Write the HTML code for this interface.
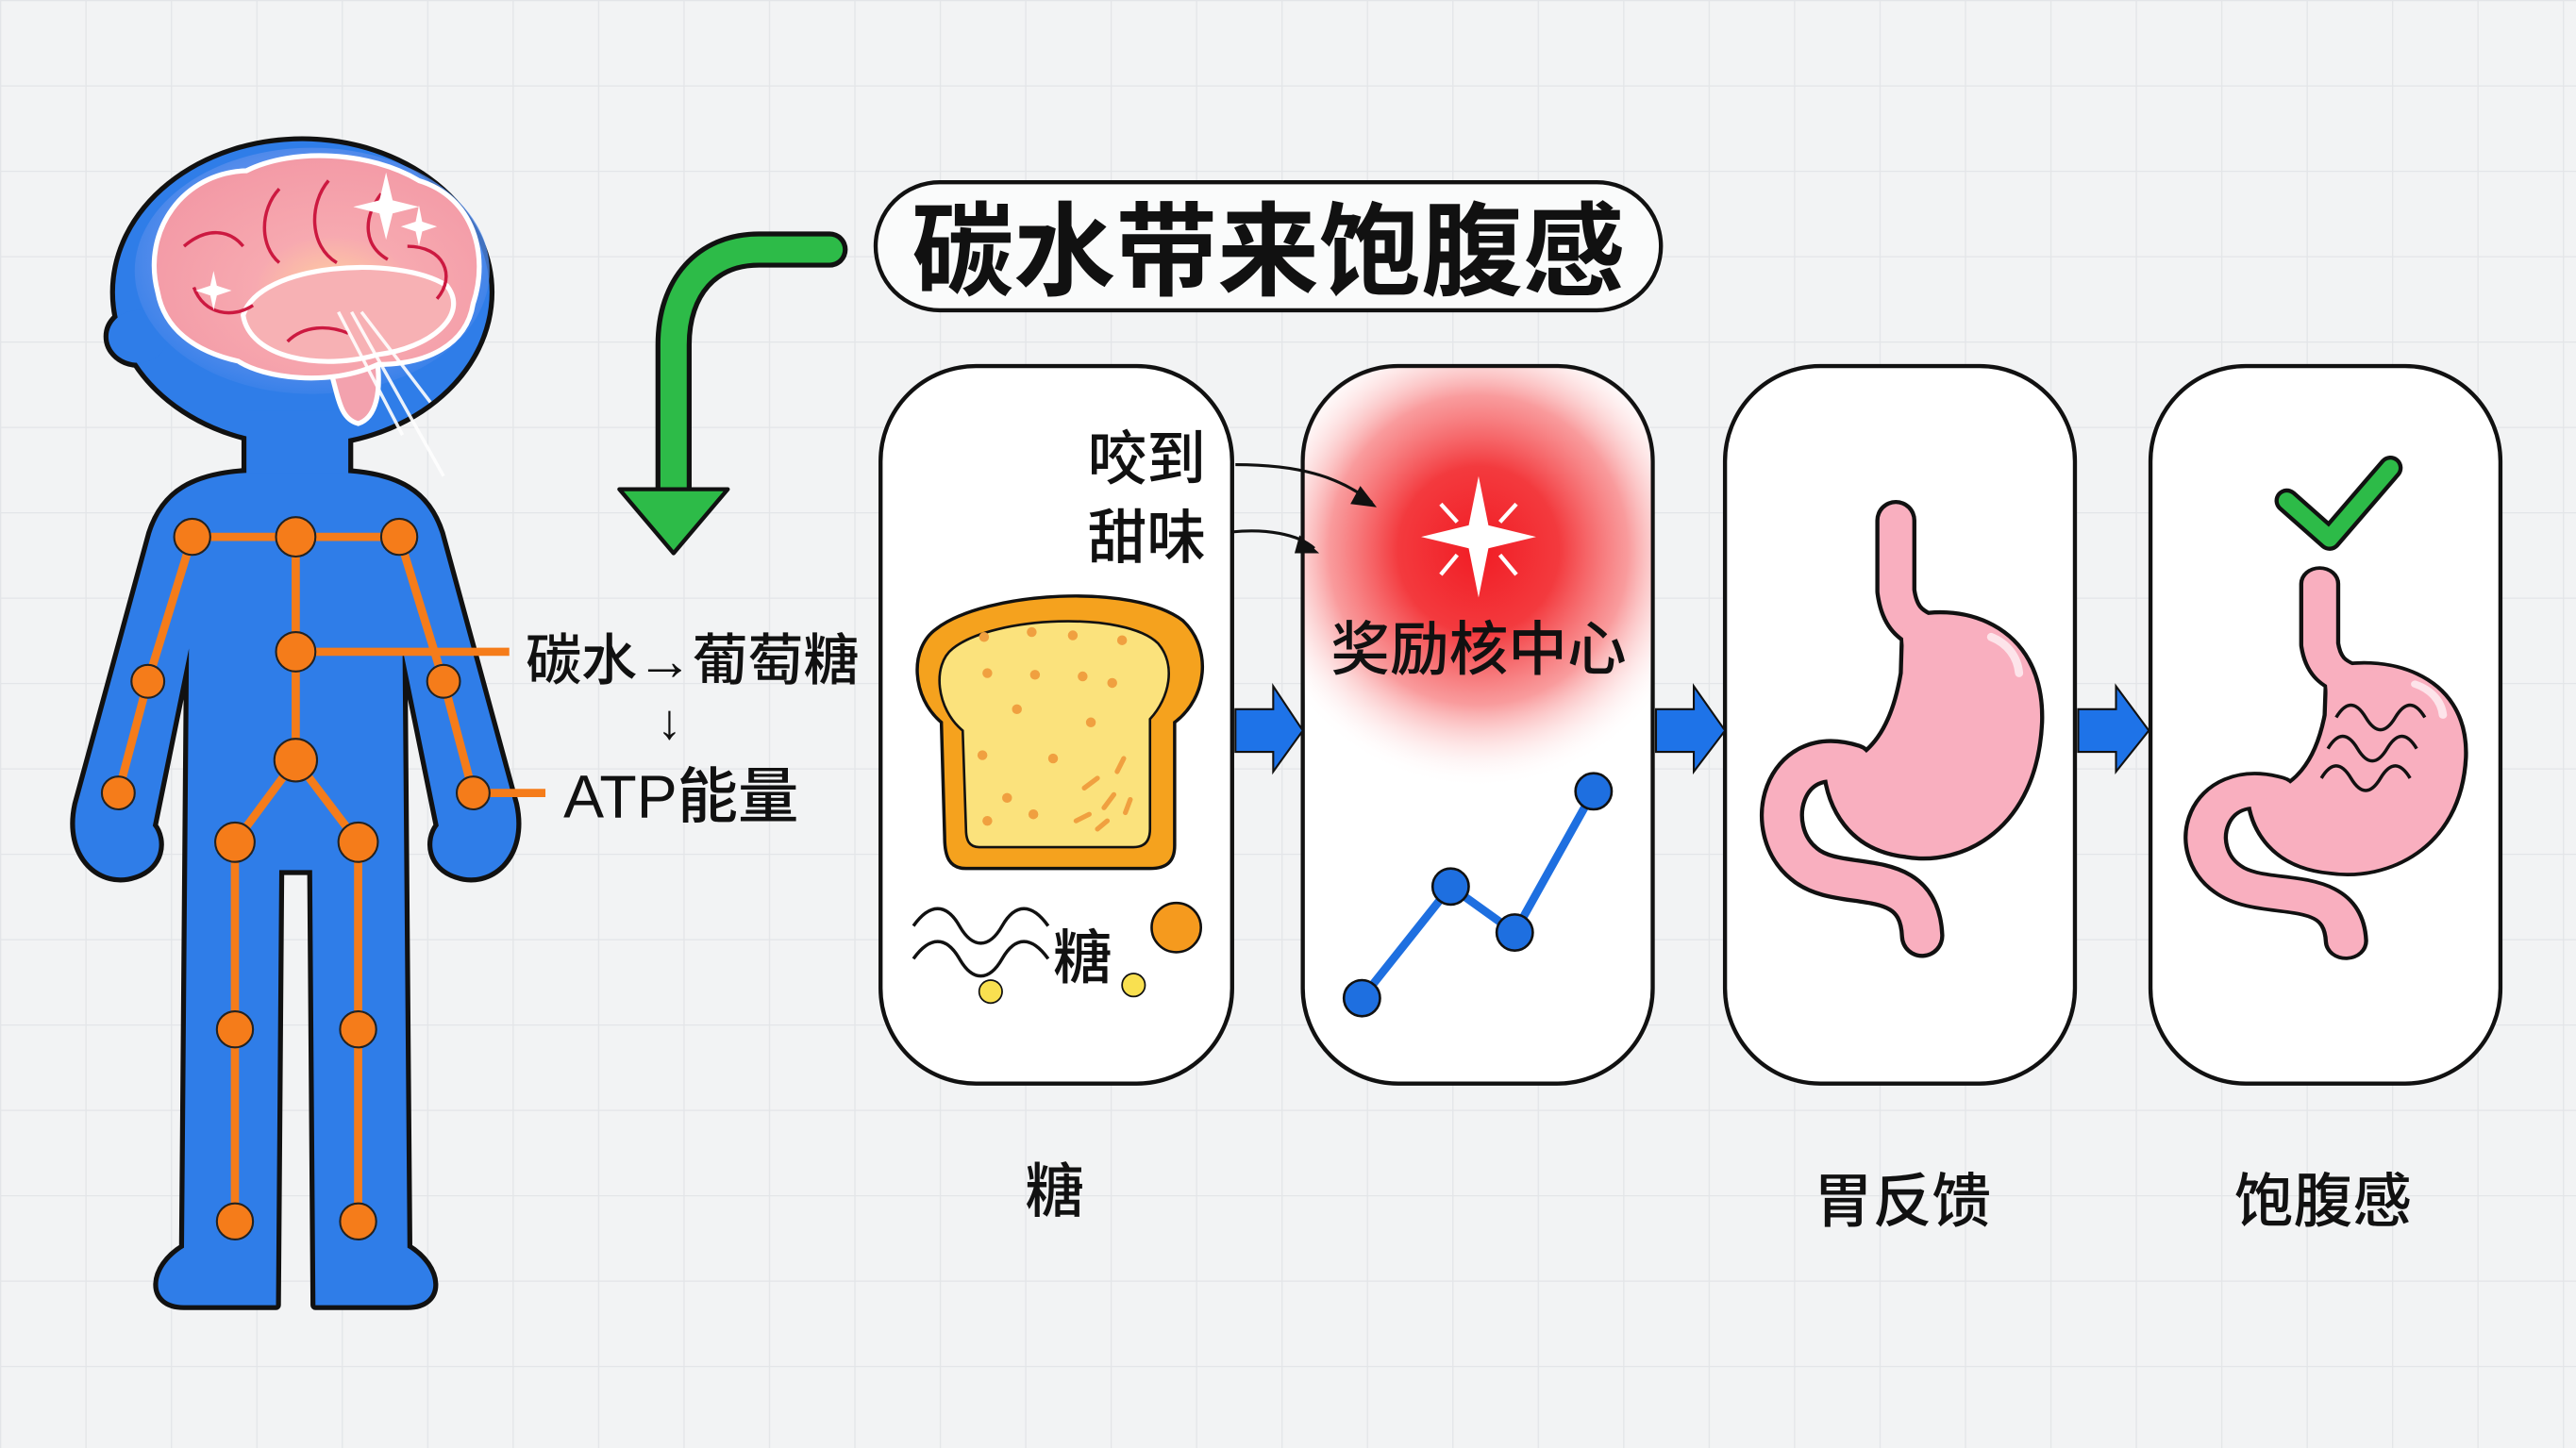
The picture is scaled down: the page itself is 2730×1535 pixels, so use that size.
<!DOCTYPE html>
<html><head><meta charset="utf-8"><style>
html,body{margin:0;padding:0;background:#f2f3f4}
svg{display:block}
text{font-family:"Liberation Sans","Noto Sans CJK SC",sans-serif;}
.lb{font-weight:500}
</style></head><body>
<svg width="2730" height="1535" viewBox="0 0 1568 882" preserveAspectRatio="none" xmlns="http://www.w3.org/2000/svg">
<defs>
<pattern id="grid" width="52" height="52" patternUnits="userSpaceOnUse">
<path d="M52 0 L0 0 0 52" fill="none" stroke="#e3e5e8" stroke-width="1.5"/>
</pattern>
<radialGradient id="glow" cx="0.5" cy="0.5" r="0.5">
<stop offset="0" stop-color="#f21c24"/><stop offset="0.35" stop-color="#f33a3e"/><stop offset="0.65" stop-color="#f77a7c" stop-opacity="0.75"/><stop offset="1" stop-color="#ffffff" stop-opacity="0"/>
</radialGradient>
<radialGradient id="brainG" cx="0.55" cy="0.6" r="0.6">
<stop offset="0" stop-color="#ffd0a0"/><stop offset="0.4" stop-color="#f7a9b0"/><stop offset="1" stop-color="#f39aa6"/>
</radialGradient>
<radialGradient id="headG" cx="0.5" cy="0.45" r="0.6">
<stop offset="0" stop-color="#a9b9f2"/><stop offset="0.6" stop-color="#6f97ee"/><stop offset="1" stop-color="#2f7de8"/>
</radialGradient>
<clipPath id="c2"><rect x="794" y="224" width="211" height="435" rx="57"/></clipPath>
</defs>
<rect width="1568" height="882" fill="#f2f3f4"/>
<rect width="1568" height="882" fill="url(#grid)"/>

<!-- PERSON -->
<g stroke="#111" stroke-width="6" fill="#111" stroke-linejoin="round">
<ellipse cx="184" cy="178" rx="114" ry="92"/>
<ellipse cx="84" cy="205" rx="18" ry="16"/>
<rect x="150" y="250" width="62" height="50"/>
<path d="M150,288 C118,290 100,300 92,325 L47,490 C40,522 62,540 82,533 C98,528 100,512 93,503 L115,395 L112,760 C92,772 90,795 112,795 L168,795 L170,530 L190,530 L192,795 L248,795 C270,795 268,772 248,760 L245,395 L267,503 C260,512 262,528 278,533 C298,540 320,522 313,490 L268,325 C260,300 242,290 210,288 Z"/>
</g>
<g fill="#2f7de8">
<ellipse cx="184" cy="178" rx="114" ry="92"/>
<ellipse cx="84" cy="205" rx="18" ry="16"/>
<rect x="150" y="250" width="62" height="50"/>
<path d="M150,288 C118,290 100,300 92,325 L47,490 C40,522 62,540 82,533 C98,528 100,512 93,503 L115,395 L112,760 C92,772 90,795 112,795 L168,795 L170,530 L190,530 L192,795 L248,795 C270,795 268,772 248,760 L245,395 L267,503 C260,512 262,528 278,533 C298,540 320,522 313,490 L268,325 C260,300 242,290 210,288 Z"/>
</g>
<ellipse cx="190" cy="165" rx="108" ry="75" fill="url(#headG)" opacity="0.8"/>
<!-- brain -->
<g stroke="#fff" stroke-width="3">
<path d="M228,210 C234,240 228,255 218,258 C206,255 206,240 200,222 Z" fill="#f3a2ae"/>
<path d="M96,178 C86,140 112,105 150,104 C178,90 225,92 255,110 C288,120 298,155 288,185 C284,210 260,222 230,222 C200,236 160,230 145,220 C118,214 100,200 96,178 Z" fill="url(#brainG)"/>
<path d="M148,192 C158,160 242,155 272,174 C286,192 262,212 230,216 C195,226 152,218 148,192 Z" fill="#f7b1b4"/>
</g>
<g stroke="#cc1940" stroke-width="2" fill="none">
<path d="M112,150 C126,138 140,140 148,150"/><path d="M118,175 C124,192 142,194 154,186"/>
<path d="M170,115 C158,128 158,150 170,160"/><path d="M200,110 C188,124 188,150 205,160"/>
<path d="M232,118 C220,134 222,150 236,158"/><path d="M248,150 C270,150 278,168 266,182"/>
<path d="M175,208 C185,198 200,198 212,203"/>
</g>
<g fill="#fff">
<path d="M235,105 L239,122 L255,126 L239,130 L235,146 L231,130 L215,126 L231,122 Z"/>
<path d="M255,125 L257,135 L266,138 L257,141 L255,150 L253,141 L244,138 L253,135 Z"/>
<path d="M130,165 L132,174 L141,177 L132,180 L130,189 L128,180 L119,177 L128,174 Z"/>
</g>
<g stroke="#fff" stroke-width="2" opacity="0.9"><line x1="206" y1="190" x2="245" y2="265"/><line x1="214" y1="190" x2="270" y2="290"/><line x1="220" y1="190" x2="262" y2="245"/></g>
<!-- skeleton -->
<g stroke="#f57c1a" stroke-width="5" fill="none">
<polyline points="117,327 243,327"/><line x1="180" y1="327" x2="180" y2="463"/>
<polyline points="117,327 90,415 72,483"/><polyline points="243,327 270,415 288,483 332,483"/>
<line x1="180" y1="397" x2="310" y2="397"/>
<polyline points="143,513 180,463 218,513"/>
<polyline points="143,513 143,744"/><polyline points="218,513 218,744"/>
</g>
<g fill="#f57c1a" stroke="#222" stroke-width="1.2">
<circle cx="117" cy="327" r="11"/><circle cx="180" cy="327" r="12"/><circle cx="243" cy="327" r="11"/>
<circle cx="180" cy="397" r="12"/><circle cx="180" cy="463" r="13"/>
<circle cx="90" cy="415" r="10"/><circle cx="270" cy="415" r="10"/>
<circle cx="72" cy="483" r="10"/><circle cx="288" cy="483" r="10"/>
<circle cx="143" cy="513" r="12"/><circle cx="218" cy="513" r="12"/>
<circle cx="143" cy="627" r="11"/><circle cx="218" cy="627" r="11"/>
<circle cx="143" cy="744" r="11"/><circle cx="218" cy="744" r="11"/>
</g>
<text class="lb" x="320" y="414" font-size="34" fill="#111" textLength="203">碳水→葡萄糖</text>
<text class="lb" x="400" y="450" font-size="30" fill="#111">↓</text>
<text class="lb" x="343" y="498" font-size="37" fill="#111">ATP能量</text>

<!-- green arrow -->
<path d="M505,152 L462,152 C430,152 410,175 410,210 L410,305" fill="none" stroke="#111" stroke-width="22" stroke-linecap="round"/>
<path d="M505,152 L462,152 C430,152 410,175 410,210 L410,305" fill="none" stroke="#2dbb48" stroke-width="16" stroke-linecap="round"/>
<path d="M377,298 L443,298 L410,337 Z" fill="#2dbb48" stroke="#111" stroke-width="2.5" stroke-linejoin="round"/>

<!-- title -->
<rect x="533" y="111" width="478" height="78" rx="39" fill="#fafbfb" stroke="#111" stroke-width="2.5"/>
<text x="772" y="175" font-size="62" font-weight="bold" text-anchor="middle" fill="#111">碳水带来饱腹感</text>

<!-- cards -->
<g fill="#fff" stroke="#111" stroke-width="2.5">
<rect x="536" y="223" width="214" height="437" rx="58"/>
<rect x="793" y="223" width="213" height="437" rx="58"/>
<rect x="1050" y="223" width="213" height="437" rx="58"/>
<rect x="1309" y="223" width="213" height="437" rx="58"/>
</g>
<!-- blue arrows -->
<g fill="#1e73e8" stroke="#111" stroke-width="1.2">
<path d="M752,432 L775,432 L775,418 L793,445 L775,470 L775,458 L752,458 Z"/>
<path d="M1008,432 L1031,432 L1031,418 L1050,445 L1031,470 L1031,458 L1008,458 Z"/>
<path d="M1265,432 L1288,432 L1288,418 L1308,445 L1288,470 L1288,458 L1265,458 Z"/>
</g>

<!-- card1 -->
<text class="lb" x="734" y="292" font-size="36" text-anchor="end" fill="#111">咬到</text>
<text class="lb" x="734" y="340" font-size="36" text-anchor="end" fill="#111">甜味</text>
<path d="M575,510 L573,440 C555,425 553,395 570,383 C600,360 690,355 720,378 C738,395 735,425 715,440 L715,515 C715,525 710,529 700,529 L588,529 C578,529 575,522 575,510 Z" fill="#f5a21e" stroke="#111" stroke-width="2"/>
<path d="M588,505 L586,445 C570,432 567,405 580,395 C605,375 685,372 705,392 C716,405 712,425 700,438 L700,505 C700,512 697,516 690,516 L596,516 C590,516 588,512 588,505 Z" fill="#fbe27c" stroke="#111" stroke-width="1.5"/>
<g fill="#f0a040">
<circle cx="599" cy="388" r="3"/><circle cx="628" cy="385" r="3"/><circle cx="653" cy="387" r="3"/><circle cx="683" cy="390" r="3"/>
<circle cx="601" cy="410" r="3"/><circle cx="630" cy="411" r="3"/><circle cx="659" cy="412" r="3"/><circle cx="677" cy="416" r="3"/>
<circle cx="619" cy="432" r="3"/><circle cx="664" cy="440" r="3"/><circle cx="598" cy="460" r="3"/><circle cx="641" cy="462" r="3"/>
<circle cx="613" cy="486" r="3"/><circle cx="629" cy="496" r="3"/><circle cx="601" cy="500" r="3"/>
<path d="M660,480 l8,-6 M672,492 l6,-8 M680,470 l4,-8 M655,500 l8,-4 M668,505 l6,-5 M685,495 l3,-8" stroke="#f0a040" stroke-width="3" stroke-linecap="round"/>
</g>
<path d="M556,564 c10,-14 20,-14 28,0 c8,14 18,14 26,0 c8,-14 18,-14 28,0 M556,584 c10,-14 20,-14 28,0 c8,14 18,14 26,0 c8,-14 18,-14 28,0" fill="none" stroke="#111" stroke-width="2"/>
<text class="lb" x="641" y="596" font-size="36" fill="#111">糖</text>
<circle cx="716" cy="565" r="15" fill="#f59a1e" stroke="#111" stroke-width="1.5"/>
<circle cx="603" cy="604" r="7" fill="#f9e050" stroke="#111" stroke-width="1"/>
<circle cx="690" cy="600" r="7" fill="#f9e050" stroke="#111" stroke-width="1"/>

<!-- card2 -->
<g clip-path="url(#c2)"><ellipse cx="900" cy="335" rx="140" ry="145" fill="url(#glow)"/></g>
<path d="M900,290 L906,320 L935,327 L906,334 L900,364 L894,334 L865,327 L894,320 Z" fill="#fff"/>
<g stroke="#fff" stroke-width="2.5"><line x1="877" y1="307" x2="887" y2="318"/><line x1="923" y1="307" x2="913" y2="318"/><line x1="877" y1="350" x2="887" y2="338"/><line x1="923" y1="350" x2="913" y2="338"/></g>
<text class="lb" x="900" y="408" font-size="36" text-anchor="middle" fill="#111">奖励核中心</text>
<path d="M752,283 C790,283 815,290 835,306" fill="none" stroke="#111" stroke-width="1.8"/>
<path d="M828,296 L838,309 L822,307 Z" fill="#111"/>
<path d="M750,324 C770,322 790,325 800,334" fill="none" stroke="#111" stroke-width="1.8"/>
<path d="M791,326 L803,337 L788,337 Z" fill="#111"/>
<polyline points="829,608 883,540 922,568 970,482" fill="none" stroke="#1e6fe0" stroke-width="5"/>
<g fill="#1e6fe0" stroke="#111" stroke-width="1.5">
<circle cx="829" cy="608" r="11"/><circle cx="883" cy="540" r="11"/><circle cx="922" cy="568" r="11"/><circle cx="970" cy="482" r="11"/>
</g>

<!-- stomachs -->
<g>
<g stroke="#111" fill="none" stroke-linecap="round" stroke-linejoin="round">
<path d="M1154,317 L1154,360 C1156,375 1162,380 1170,384" stroke-width="25"/>
<path d="M1128,466 C1085,452 1072,505 1098,526 C1120,545 1168,525 1170,570" stroke-width="27"/>
</g>
<path d="M1158,377 C1190,365 1245,378 1243,440 C1240,505 1195,528 1160,522 C1125,518 1112,492 1110,468 C1140,465 1152,440 1157,410 Z" fill="#f9afbf" stroke="#111" stroke-width="2.5"/>
<g stroke="#f9afbf" fill="none" stroke-linecap="round" stroke-linejoin="round">
<path d="M1154,317 L1154,360 C1156,375 1162,380 1170,384" stroke-width="20"/>
<path d="M1128,466 C1085,452 1072,505 1098,526 C1120,545 1168,525 1170,570" stroke-width="22"/>
</g>
<path d="M1158,383 C1190,370 1240,380 1238,440 C1236,500 1195,520 1160,516 C1130,512 1118,492 1116,470 C1143,466 1155,440 1160,410 Z" fill="#f9afbf"/>
<path d="M1212,388 C1222,392 1228,400 1229,410" stroke="#fde4ea" stroke-width="5" fill="none" stroke-linecap="round"/>
</g>
<g transform="translate(258,83) scale(1,0.86)">
<g stroke="#111" fill="none" stroke-linecap="round" stroke-linejoin="round">
<path d="M1154,317 L1154,360 C1156,375 1162,380 1170,384" stroke-width="25"/>
<path d="M1128,466 C1085,452 1072,505 1098,526 C1120,545 1168,525 1170,570" stroke-width="27"/>
</g>
<path d="M1158,377 C1190,365 1245,378 1243,440 C1240,505 1195,528 1160,522 C1125,518 1112,492 1110,468 C1140,465 1152,440 1157,410 Z" fill="#f9afbf" stroke="#111" stroke-width="2.5"/>
<g stroke="#f9afbf" fill="none" stroke-linecap="round" stroke-linejoin="round">
<path d="M1154,317 L1154,360 C1156,375 1162,380 1170,384" stroke-width="20"/>
<path d="M1128,466 C1085,452 1072,505 1098,526 C1120,545 1168,525 1170,570" stroke-width="22"/>
</g>
<path d="M1158,383 C1190,370 1240,380 1238,440 C1236,500 1195,520 1160,516 C1130,512 1118,492 1116,470 C1143,466 1155,440 1160,410 Z" fill="#f9afbf"/>
<path d="M1212,388 C1222,392 1228,400 1229,410" stroke="#fde4ea" stroke-width="5" fill="none" stroke-linecap="round"/>
</g>
<path d="M1422,437 c6,-10 12,-10 18,0 c6,10 12,10 18,0 c6,-10 12,-10 18,0 M1417,456 c6,-10 12,-10 18,0 c6,10 12,10 18,0 c6,-10 12,-10 18,0 M1413,474 c6,-10 12,-10 18,0 c6,10 12,10 18,0 c6,-10 12,-10 18,0" fill="none" stroke="#111" stroke-width="2"/>
<!-- check -->
<path d="M1392,305 L1418,328 L1455,285" fill="none" stroke="#111" stroke-width="15" stroke-linecap="round" stroke-linejoin="round"/>
<path d="M1392,305 L1418,328 L1455,285" fill="none" stroke="#2dbb48" stroke-width="10" stroke-linecap="round" stroke-linejoin="round"/>

<!-- bottom labels -->
<text class="lb" x="642" y="738" font-size="36" text-anchor="middle" fill="#111">糖</text>
<text class="lb" x="1158" y="744" font-size="36" text-anchor="middle" fill="#111">胃反馈</text>
<text class="lb" x="1414" y="744" font-size="36" text-anchor="middle" fill="#111">饱腹感</text>
</svg>
</body></html>
